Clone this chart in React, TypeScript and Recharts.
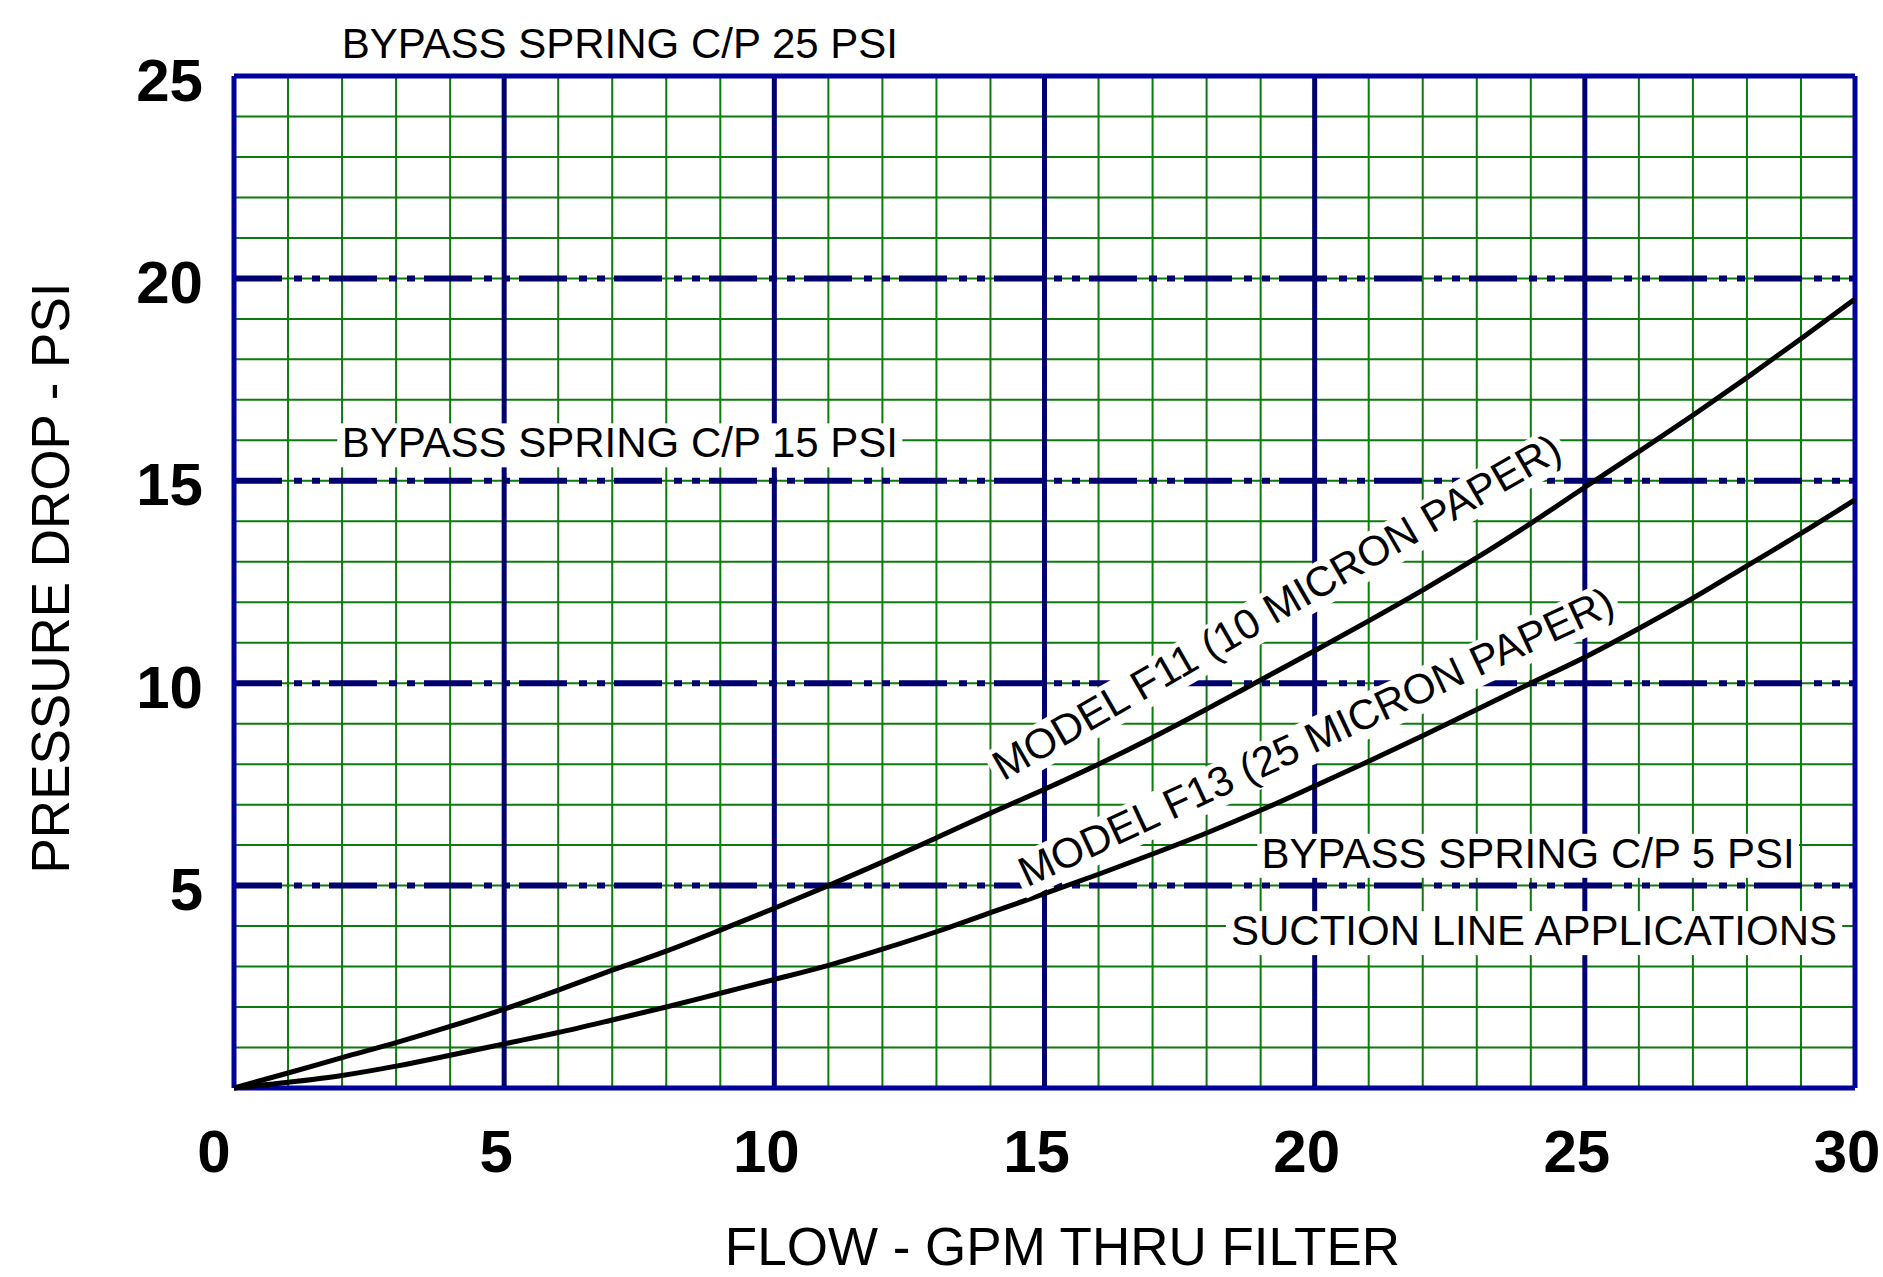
import {
  LineChart, Line, XAxis, YAxis, CartesianGrid, ReferenceDot, Label,
} from 'recharts'

// flow (GPM) vs pressure drop (PSI)
const flow = [0, 1, 2, 3, 4, 5, 6, 7, 8, 9, 10, 11, 12, 13, 14, 15, 16, 17, 18, 19, 20, 21, 22, 23, 24, 25, 26, 27, 28, 29, 30]
const f11 = [0, 0.37, 0.75, 1.12, 1.52, 1.95, 2.42, 2.91, 3.38, 3.9, 4.44, 5.0, 5.58, 6.18, 6.79, 7.38, 8.0, 8.66, 9.36, 10.08, 10.8, 11.54, 12.3, 13.1, 13.95, 14.84, 15.72, 16.62, 17.55, 18.51, 19.49]
const f13 = [0, 0.14, 0.31, 0.54, 0.81, 1.09, 1.37, 1.68, 2.0, 2.34, 2.68, 3.03, 3.43, 3.86, 4.33, 4.8, 5.28, 5.78, 6.3, 6.86, 7.46, 8.07, 8.7, 9.35, 10.0, 10.64, 11.35, 12.1, 12.9, 13.7, 14.53]

const xTicks = [0, 5, 10, 15, 20, 25, 30]
const yTicks = [5, 10, 15, 20, 25]
const minorX = flow
const minorY = [0, 1, 2, 3, 4, 5, 6, 7, 8, 9, 10, 11, 12, 13, 14, 15, 16, 17, 18, 19, 20, 21, 22, 23, 24, 25]
const majorX = [5, 10, 15, 20, 25]
const bypassY = [5, 10, 15, 20]

const data = flow.map((x, i) => ({ flow: x, f11: f11[i], f13: f13[i] }))

const FONT = '"Liberation Sans", Arial, Helvetica, sans-serif'
const NAVY = '#00006e'
const BLUE = '#00009c'
const GREEN = '#0b7b0b'

function textWidth(s: string, size: number) {
  const ctx = document.createElement('canvas').getContext('2d')
  if (!ctx) return s.length * size * 0.6
  ctx.font = `${size}px "Liberation Sans", Arial, sans-serif`
  return ctx.measureText(s).width
}

// white-backed annotation drawn at a data point
function note(text: string, angle = 0) {
  return (p: any) => {
    const { cx, cy } = p
    const w = textWidth(text, 42) + 8
    const h = 44
    return (
      <g transform={`rotate(${angle} ${cx} ${cy})`}>
        <rect x={cx - w / 2} y={cy - h / 2 + 3} width={w} height={h} fill="#fff" />
        <text x={cx} y={cy} dy="0.36em" textAnchor="middle" fontFamily={FONT} fontSize={42} fill="#000">
          {text}
        </text>
      </g>
    )
  }
}

const XTick = ({ x, y, payload }: any) => (
  <text x={x + (payload.value === 0 ? -20 : -8)} y={y + 84} textAnchor="middle"
    fontFamily={FONT} fontWeight="bold" fontSize={60} fill="#000">
    {payload.value}
  </text>
)

const YTick = ({ x, y, payload }: any) => (
  <text x={x - 31} y={y + 3} dy="0.36em" textAnchor="end"
    fontFamily={FONT} fontWeight="bold" fontSize={60} fill="#000">
    {payload.value}
  </text>
)

export default function App() {
  return (
    <div style={{ position: 'absolute', left: 0, top: 0, width: 1883, height: 1277, background: '#fff' }}>
      <LineChart width={1883} height={1277} data={data}
        margin={{ top: 76, right: 28, left: 134, bottom: 89 }}>
        {/* minor green grid */}
        <CartesianGrid stroke={GREEN} strokeWidth={2} horizontalValues={minorY} verticalValues={minorX} />
        {/* major verticals */}
        <CartesianGrid stroke={NAVY} strokeWidth={5} horizontal={false} verticalValues={majorX} />
        {/* bypass pressure lines, dash-dot-dot */}
        <CartesianGrid stroke={NAVY} strokeWidth={6} vertical={false} horizontalValues={bypassY}
          strokeDasharray="48 12 8 10 8 9" />
        {/* frame */}
        <CartesianGrid stroke={BLUE} strokeWidth={5} horizontalValues={[0, 25]} verticalValues={[0, 30]} />

        <XAxis dataKey="flow" type="number" domain={[0, 30]} ticks={xTicks} interval={0}
          axisLine={false} tickLine={false} tickSize={0} tickMargin={0} height={100} tick={<XTick />}>
          <Label content={({ viewBox }: any) => (
            <text x={viewBox.x + viewBox.width / 2 + 18} y={viewBox.y + 177} textAnchor="middle"
              fontFamily={FONT} fontSize={53} fill="#000">FLOW - GPM THRU FILTER</text>
          )} />
        </XAxis>
        <YAxis type="number" domain={[0, 25]} ticks={yTicks} interval={0}
          axisLine={false} tickLine={false} tickSize={0} tickMargin={0} width={100} tick={<YTick />}>
          <Label content={({ viewBox }: any) => {
            const cx = viewBox.x - 65
            const cy = viewBox.y + viewBox.height / 2 - 4
            return (
              <text x={cx} y={cy} transform={`rotate(-90 ${cx} ${cy})`} textAnchor="middle"
                fontFamily={FONT} fontSize={53} fill="#000">PRESSURE DROP - PSI</text>
            )
          }} />
        </YAxis>

        <ReferenceDot x={7.14} y={25.81} ifOverflow="visible" shape={note('BYPASS SPRING C/P 25 PSI')} />
        <ReferenceDot x={7.14} y={15.95} ifOverflow="visible" shape={note('BYPASS SPRING C/P 15 PSI')} />
        <ReferenceDot x={23.95} y={5.81} ifOverflow="visible" shape={note('BYPASS SPRING C/P 5 PSI')} />
        <ReferenceDot x={24.06} y={3.9} ifOverflow="visible" shape={note('SUCTION LINE APPLICATIONS')} />
        <ReferenceDot x={19.29} y={11.9} ifOverflow="visible" shape={note('MODEL F11 (10 MICRON PAPER)', -30)} />
        <ReferenceDot x={20.02} y={8.69} ifOverflow="visible" shape={note('MODEL F13 (25 MICRON PAPER)', -25)} />

        <Line type="monotone" dataKey="f11" stroke="#000" strokeWidth={5} dot={false} isAnimationActive={false} />
        <Line type="monotone" dataKey="f13" stroke="#000" strokeWidth={5} dot={false} isAnimationActive={false} />
      </LineChart>
    </div>
  )
}
